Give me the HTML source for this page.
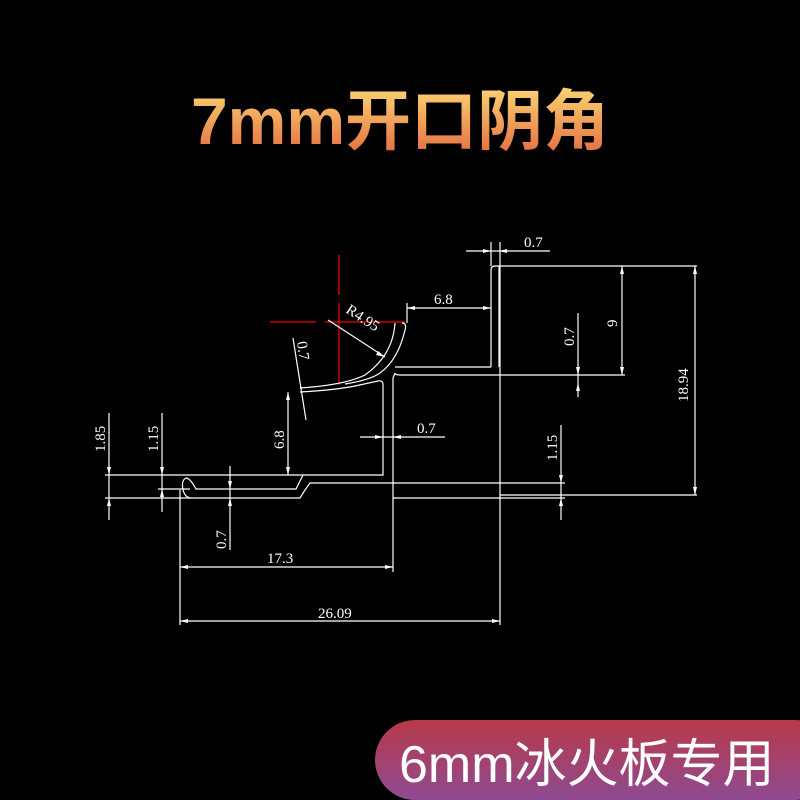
<!DOCTYPE html>
<html><head><meta charset="utf-8"><style>
html,body{margin:0;padding:0;background:#000;}
#c{position:relative;width:800px;height:800px;overflow:hidden;background:#000;}
.t{position:absolute;left:0;top:78px;width:800px;text-align:center;font:bold 66px "Liberation Sans","Noto Sans CJK SC",sans-serif;background:linear-gradient(#ffe17a,#e0613a);-webkit-background-clip:text;background-clip:text;color:transparent;line-height:86px;}
.b{position:absolute;left:375px;top:720px;width:460px;height:80px;border-radius:40px;background:linear-gradient(#b83a48,#8e4a92);}
.bt{position:absolute;left:399px;top:722px;height:80px;line-height:80px;color:#fff;font:52px "Liberation Sans","Noto Sans CJK SC",sans-serif;white-space:nowrap;}
svg{position:absolute;left:0;top:0}
svg text{font-family:"Liberation Serif",serif;font-size:15px;fill:#fff;stroke:none}
</style></head><body><div id="c">
<div class="t">7mm开口阴角</div>
<svg width="800" height="800" viewBox="0 0 800 800" fill="none" stroke="#fff" stroke-width="1.2">
<g stroke="#e00" stroke-width="1.3">
<line x1="339" y1="255" x2="339" y2="295"/><line x1="339" y1="303" x2="339" y2="385"/>
<line x1="270" y1="322" x2="316" y2="322"/><line x1="325" y1="322" x2="405" y2="322"/>
</g>
<path d="M491,367 L491,270 Q491,266 495,266 L697,266"/>
<path d="M499,266 L499,367"/>
<path d="M395,367 L491,367"/>
<path d="M395,373 L393,378 L393,483 L310,483 L305,490 L300,498 L190,498 Q185,497 183,490 Q181,480 186,478 Q190,478 196,489 L296,489 L303,475 L383,475 L383,385 Q383,380 378,381 L355,386 Q335,390 300,392"/>
<path d="M402,323 Q407,323 405,330 Q398,360 380,373 Q370,380 345,384"/>
<path d="M395,323 Q393,355 365,375 Q345,385 300,388"/>
<path d="M395,373 Q395,375 400,375 L625,375"/>
<line x1="500" y1="242" x2="500" y2="625"/>
<line x1="491" y1="242" x2="491" y2="266"/>
<line x1="105" y1="475" x2="303" y2="475"/>
<line x1="105" y1="498" x2="190" y2="498"/>
<line x1="158" y1="489" x2="190" y2="489"/>
<line x1="393" y1="483" x2="565" y2="483"/>
<line x1="393" y1="498" x2="565" y2="498"/>
<line x1="180" y1="490" x2="180" y2="625"/>
<line x1="393" y1="483" x2="393" y2="572"/>
<line x1="407" y1="303" x2="407" y2="323"/>
<line x1="500" y1="495" x2="697" y2="495"/>
<line x1="695" y1="266" x2="695" y2="495"/>
<line x1="622" y1="266" x2="622" y2="375"/>
<line x1="578" y1="313" x2="578" y2="397"/>
<line x1="561" y1="425" x2="561" y2="520"/>
<line x1="180" y1="621" x2="500" y2="621"/>
<line x1="180" y1="567" x2="393" y2="567"/>
<line x1="109" y1="413" x2="109" y2="520"/>
<line x1="162" y1="413" x2="162" y2="512"/>
<line x1="230" y1="466" x2="230" y2="550"/>
<line x1="288" y1="392" x2="288" y2="475"/>
<line x1="407" y1="308" x2="491" y2="308"/>
<line x1="466" y1="251" x2="550" y2="251"/>
<line x1="360" y1="437" x2="445" y2="437"/>
<line x1="328" y1="320" x2="385" y2="357"/>
<line x1="293" y1="338" x2="306" y2="420"/>
<g fill="#fff" stroke="none">
<path d="M695,266l-2,8h4z"/><path d="M695,495l-2,-8h4z"/>
<path d="M622,266l-2,8h4z"/><path d="M622,375l-2,-8h4z"/>
<path d="M578,375l-2,-8h4z"/><path d="M578,383l-2,8h4z"/>
<path d="M561,483l-2,-8h4z"/><path d="M561,498l-2,8h4z"/>
<path d="M180,621l8,-2v4z"/><path d="M500,621l-8,-2v4z"/>
<path d="M180,567l8,-2v4z"/><path d="M393,567l-8,-2v4z"/>
<path d="M109,475l-2,-8h4z"/><path d="M109,498l-2,8h4z"/>
<path d="M162,475l-2,-8h4z"/><path d="M162,489l-2,8h4z"/>
<path d="M230,489l-2,-8h4z"/><path d="M230,498l-2,8h4z"/>
<path d="M288,392l-2,8h4z"/><path d="M288,475l-2,-8h4z"/>
<path d="M407,308l8,-2v4z"/><path d="M491,308l-8,-2v4z"/>
<path d="M491,251l-8,-2v4z"/><path d="M499,251l8,-2v4z"/>
<path d="M383,437l-8,-2v4z"/><path d="M393,437l8,-2v4z"/>
<path d="M385,357l-7,-6l-2,4z"/>
</g>
<text x="524" y="247">0.7</text>
<text x="434" y="304">6.8</text>
<text x="417" y="433">0.7</text>
<text x="267" y="563">17.3</text>
<text x="318" y="618">26.09</text>
<text transform="translate(345,312) rotate(33)">R4.95</text>
<text transform="translate(617,327) rotate(-90)">9</text>
<text transform="translate(574,346) rotate(-90)">0.7</text>
<text transform="translate(688,402) rotate(-90)">18.94</text>
<text transform="translate(557,461) rotate(-90)">1.15</text>
<text transform="translate(105,452) rotate(-90)">1.85</text>
<text transform="translate(158,452) rotate(-90)">1.15</text>
<text transform="translate(226,549) rotate(-90)">0.7</text>
<text transform="translate(284,449) rotate(-90)">6.8</text>
<text transform="translate(297,342) rotate(82)">0.7</text>
</svg>
<div class="b"></div>
<div class="bt">6mm冰火板专用</div>
</div></body></html>
